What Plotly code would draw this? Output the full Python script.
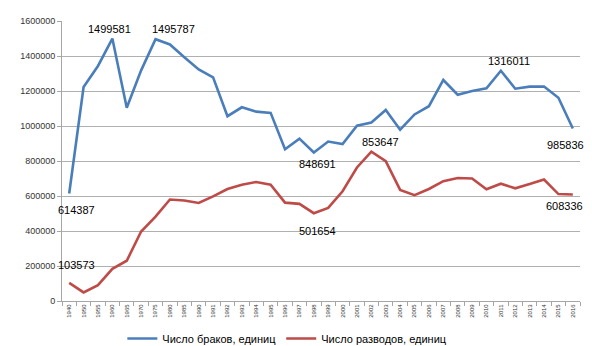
import plotly.graph_objects as go

years = ["1940", "1950", "1955", "1960", "1965", "1970", "1975", "1980", "1985", "1990",
         "1991", "1992", "1993", "1994", "1995", "1996", "1997", "1998", "1999", "2000",
         "2001", "2002", "2003", "2004", "2005", "2006", "2007", "2008", "2009", "2010",
         "2011", "2012", "2013", "2014", "2015", "2016"]

marriages = [614387, 1223000, 1343000, 1499581, 1104000, 1318000, 1495787, 1466000, 1393000, 1323000,
             1278000, 1056000, 1107000, 1082000, 1075000, 867000, 928000, 848691, 911000, 897000,
             1002000, 1020000, 1092000, 979000, 1066000, 1113000, 1263000, 1179000, 1200000, 1215000,
             1316011, 1213000, 1225000, 1226000, 1161000, 985836]

divorces = [103573, 49000, 91000, 184000, 230000, 397000, 482000, 580000, 574000, 560000,
            598000, 640000, 664000, 680000, 665000, 562000, 555000, 501654, 532000, 627000,
            763000, 853647, 799000, 635000, 605000, 640000, 685000, 703000, 700000, 639000,
            670000, 644000, 668000, 694000, 611000, 608336]

marriage_name = "Число браков, единиц"
divorce_name = "Число разводов, единиц"

# labelled points: (year, x shift, y shift)
marriage_labels = [("1940", 7, -17), ("1960", -3, 10), ("1975", 18, 10), ("1998", 4, -12),
                   ("2011", 8, 10), ("2016", -7, -17)]
divorce_labels = [("1940", 7, 18), ("1998", 4, -18), ("2002", 9, 10), ("2016", -8, -11)]

BLUE = "#4A7EBB"
RED = "#BE4B48"
FONT = "Liberation Sans"

fig = go.Figure()
fig.add_trace(go.Scatter(x=years, y=marriages, mode="lines", name=marriage_name,
                         line=dict(color=BLUE, width=2.6)))
fig.add_trace(go.Scatter(x=years, y=divorces, mode="lines", name=divorce_name,
                         line=dict(color=RED, width=2.6)))

annotations = []
for series, labels in ((marriages, marriage_labels), (divorces, divorce_labels)):
    for yr, xs, ys in labels:
        i = years.index(yr)
        annotations.append(dict(x=i, y=series[i], xref="x", yref="y",
                                text=str(series[i]), showarrow=False,
                                xshift=xs, yshift=ys,
                                font=dict(family=FONT, size=11, color="#000000")))

fig.update_layout(
    width=592, height=346,
    margin=dict(l=54, r=20, t=13, b=53),
    paper_bgcolor="white", plot_bgcolor="white",
    showlegend=True,
    annotations=annotations,
    legend=dict(orientation="h", x=0.435, xanchor="center",
                yref="container", y=0.045, yanchor="middle",
                font=dict(family=FONT, size=11, color="#000000"),
                itemwidth=30),
    xaxis=dict(type="category", range=[-0.5, 35.5], tickangle=-90, automargin=False,
               tickfont=dict(family=FONT, size=6, color="#333333"),
               showgrid=False, showline=True, linecolor="#A6A6A6", linewidth=1,
               ticks="outside", tickson="boundaries", ticklen=4, tickcolor="#A6A6A6"),
    yaxis=dict(range=[0, 1600000], dtick=200000, tickformat="d", automargin=False,
               tickfont=dict(family=FONT, size=9, color="#333333"),
               showgrid=True, gridcolor="#B0B0B0", gridwidth=1,
               zeroline=False, showline=True, linecolor="#A6A6A6", linewidth=1,
               ticks="outside", ticklen=4, tickcolor="#A6A6A6"),
)

fig.write_html("out.html")
